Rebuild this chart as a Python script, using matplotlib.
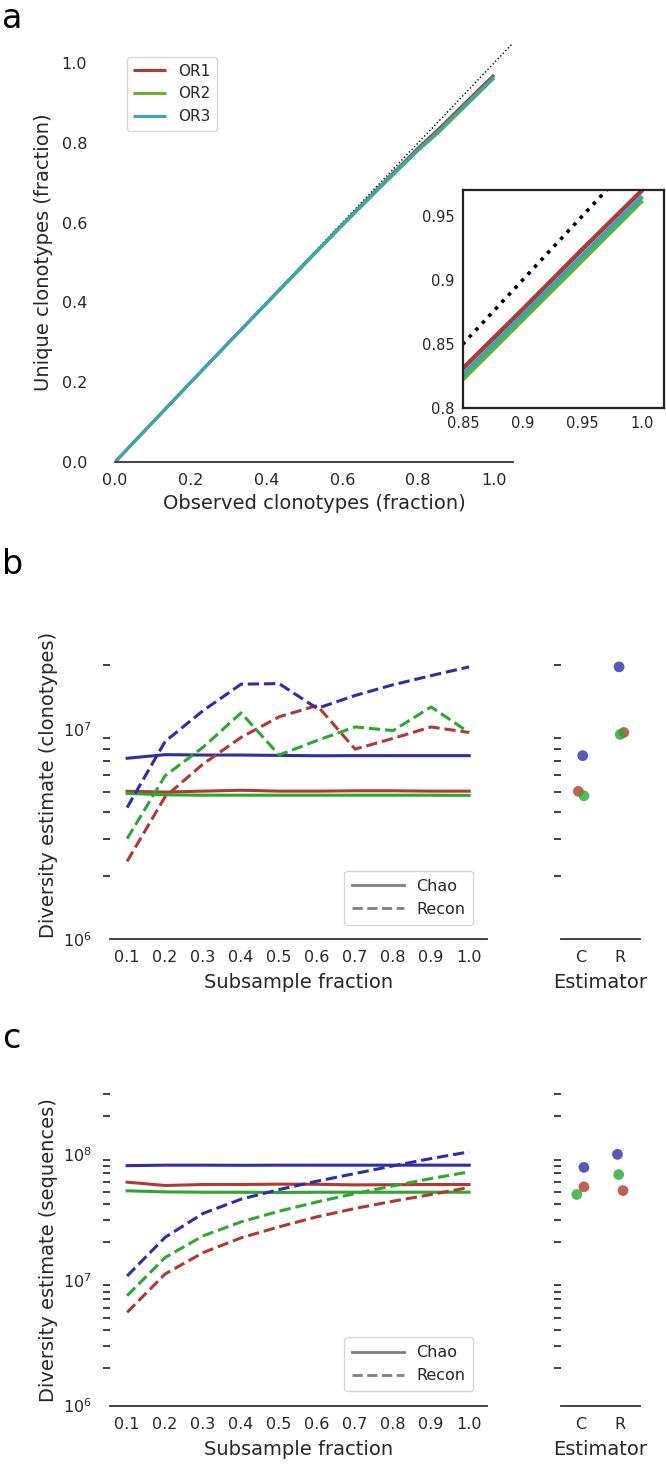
import matplotlib
matplotlib.use("Agg")
import matplotlib.pyplot as plt
from matplotlib.ticker import LogLocator, NullFormatter

plt.rcParams['font.family'] = ['DejaVu Sans']

# ---------------- Panel a data ----------------
obs_frac = [0, 0.1, 0.2, 0.3, 0.4, 0.5, 0.6, 0.7, 0.8, 0.85, 0.9, 0.95, 1.0]
uniq_or1 = [0, 0.1, 0.2, 0.2995, 0.3985, 0.497, 0.595, 0.692, 0.787, 0.831, 0.877, 0.924, 0.970]
uniq_or2 = [0, 0.1, 0.2, 0.299, 0.3975, 0.4955, 0.593, 0.688, 0.781, 0.8225, 0.869, 0.9155, 0.962]
uniq_or3 = [0, 0.1, 0.2, 0.2993, 0.398, 0.4963, 0.594, 0.690, 0.7835, 0.826, 0.8725, 0.919, 0.965]
diag = [0, 1.1]
samples_a = ['OR1', 'OR2', 'OR3']

# ---------------- Panel b/c data ----------------
fractions = [0.1, 0.2, 0.3, 0.4, 0.5, 0.6, 0.7, 0.8, 0.9, 1.0]
frac_labels = ['0.1', '0.2', '0.3', '0.4', '0.5', '0.6', '0.7', '0.8', '0.9', '1.0']

clono_chao_or1 = [5.04e6, 5.0e6, 5.05e6, 5.1e6, 5.05e6, 5.05e6, 5.07e6, 5.07e6, 5.05e6, 5.05e6]
clono_chao_or2 = [4.93e6, 4.85e6, 4.83e6, 4.83e6, 4.83e6, 4.83e6, 4.83e6, 4.83e6, 4.83e6, 4.82e6]
clono_chao_or3 = [7.24e6, 7.53e6, 7.5e6, 7.5e6, 7.47e6, 7.44e6, 7.45e6, 7.45e6, 7.45e6, 7.45e6]
clono_recon_or1 = [2.34e6, 4.75e6, 6.8e6, 9.1e6, 1.14e7, 1.29e7, 8.0e6, 9.0e6, 1.02e7, 9.6e6]
clono_recon_or2 = [3.0e6, 5.98e6, 8.17e6, 1.19e7, 7.5e6, 8.8e6, 1.02e7, 9.8e6, 1.27e7, 9.6e6]
clono_recon_or3 = [4.22e6, 8.7e6, 1.22e7, 1.63e7, 1.64e7, 1.25e7, 1.44e7, 1.62e7, 1.79e7, 1.97e7]

seq_chao_or1 = [5.95e7, 5.6e7, 5.7e7, 5.7e7, 5.74e7, 5.72e7, 5.66e7, 5.68e7, 5.7e7, 5.7e7]
seq_chao_or2 = [5.08e7, 4.98e7, 4.95e7, 4.95e7, 4.93e7, 4.95e7, 4.95e7, 4.95e7, 4.95e7, 4.95e7]
seq_chao_or3 = [8.05e7, 8.12e7, 8.12e7, 8.1e7, 8.12e7, 8.12e7, 8.12e7, 8.12e7, 8.12e7, 8.12e7]
seq_recon_or1 = [5.5e6, 1.11e7, 1.64e7, 2.15e7, 2.63e7, 3.16e7, 3.68e7, 4.2e7, 4.75e7, 5.4e7]
seq_recon_or2 = [7.46e6, 1.5e7, 2.23e7, 2.88e7, 3.5e7, 4.15e7, 4.83e7, 5.56e7, 6.36e7, 7.18e7]
seq_recon_or3 = [1.07e7, 2.17e7, 3.36e7, 4.36e7, 5.2e7, 6.06e7, 6.97e7, 8.02e7, 9.17e7, 1.035e8]

estimators = ['C', 'R']
# estimator point values [C, R] per sample
clono_est_or1 = [5.04e6, 9.6e6]
clono_est_or2 = [4.8e6, 9.4e6]
clono_est_or3 = [7.45e6, 1.97e7]
seq_est_or1 = [5.46e7, 5.1e7]
seq_est_or2 = [4.75e7, 6.84e7]
seq_est_or3 = [7.8e7, 9.9e7]

# ---------------- styles ----------------
RED = '#b03a32'
GREEN_A = '#6ab02c'
TEAL = '#37a6b7'
BLUE = '#2e2ea8'
GREEN = '#2fa532'
SPINE = '#333333'
TXT = '#262626'
jit_b = {'OR1': [-0.06, 0.09], 'OR2': [0.08, 0.0], 'OR3': [0.05, -0.03]}
jit_c = {'OR1': [0.08, 0.07], 'OR2': [-0.1, -0.04], 'OR3': [0.08, -0.07]}

W, H = 666, 1464
fig = plt.figure(figsize=(W / 100, H / 100), dpi=100)

def fx(px):
    return px / W

def fy(px):
    return 1 - px / H

def rect(l, t, r, b):
    return [fx(l), fy(b), fx(r) - fx(l), fy(t) - fy(b)]

TICK_FS = 11.5
LAB_FS = 14

# ---------------- Panel a ----------------
ax = fig.add_axes(rect(115, 43, 513, 462))
ax.plot(diag, diag, color='black', linestyle=':', lw=1.0, zorder=1)
for y, c, lab in zip([uniq_or1, uniq_or2, uniq_or3], [RED, GREEN_A, TEAL], samples_a):
    ax.plot(obs_frac, y, color=c, lw=2.2, label=lab, solid_capstyle='butt')
ax.set_xlim(0, 1.05)
ax.set_ylim(0, 1.05)
ax.set_xticks([0, 0.2, 0.4, 0.6, 0.8, 1.0])
ax.set_yticks([0, 0.2, 0.4, 0.6, 0.8, 1.0])
for s in ['top', 'right', 'left']:
    ax.spines[s].set_visible(False)
ax.spines['bottom'].set_color(SPINE)
ax.spines['bottom'].set_linewidth(1.3)
ax.tick_params(axis='both', length=0, labelsize=TICK_FS, labelcolor=TXT)
ax.tick_params(axis='y', pad=20)
ax.tick_params(axis='x', pad=8)
ax.set_xlabel('Observed clonotypes (fraction)', fontsize=LAB_FS, color=TXT, labelpad=4)
ax.set_ylabel('Unique clonotypes (fraction)', fontsize=LAB_FS, color=TXT, labelpad=6)
leg = ax.legend(loc='upper left', bbox_to_anchor=(0.01, 0.985), fontsize=11,
                handlelength=2.1, frameon=True, borderpad=0.45, labelspacing=0.5)
leg.get_frame().set_edgecolor('#cccccc')
for t in leg.get_texts():
    t.set_color(TXT)
fig.text(fx(2), fy(2), 'a', fontsize=24, va='top', ha='left', color='black')

# inset
axi = fig.add_axes(rect(463, 190, 664, 408))
axi.plot(diag, diag, color='black', linestyle=':', lw=2.6, zorder=1)
for y, c in zip([uniq_or1, uniq_or2, uniq_or3], [RED, GREEN_A, TEAL]):
    axi.plot(obs_frac, y, color=c, lw=3.2, solid_capstyle='butt')
axi.set_xlim(0.85, 1.018)
axi.set_ylim(0.8, 0.97)
axi.set_xticks([0.85, 0.9, 0.95, 1.0])
axi.set_xticklabels(['0.85', '0.9', '0.95', '1.0'])
axi.set_yticks([0.8, 0.85, 0.9, 0.95])
axi.set_yticklabels(['0.8', '0.85', '0.9', '0.95'])
for s in axi.spines.values():
    s.set_color('#222222')
    s.set_linewidth(1.6)
axi.tick_params(axis='both', length=0, labelsize=10.5, labelcolor=TXT, pad=6)

# ---------------- Panels b and c ----------------
def style_log(a):
    for s in ['top', 'right', 'left']:
        a.spines[s].set_visible(False)
    a.spines['bottom'].set_color(SPINE)
    a.spines['bottom'].set_linewidth(1.3)
    a.yaxis.set_minor_locator(LogLocator(base=10, subs=range(2, 10), numticks=20))
    a.yaxis.set_minor_formatter(NullFormatter())
    a.tick_params(axis='both', which='major', length=0, labelsize=TICK_FS, labelcolor=TXT)
    a.tick_params(axis='x', which='major', pad=8)
    a.tick_params(axis='y', which='minor', length=5, width=1.3, color=SPINE, left=True)

def left_panel(top, bottom, chao, recon, ylim_top, ylabel):
    axl = fig.add_axes(rect(110, top, 487, bottom))
    for y, c in zip(chao, [RED, GREEN, BLUE]):
        axl.plot(fractions, y, color=c, lw=2.2)
    for y, c in zip(recon, [RED, GREEN, BLUE]):
        axl.plot(fractions, y, color=c, lw=2.2, linestyle='--')
    axl.plot([], [], color='#808080', lw=2.0, label='Chao')
    axl.plot([], [], color='#808080', lw=2.0, linestyle='--', label='Recon')
    axl.set_yscale('log')
    axl.set_ylim(1e6, ylim_top)
    axl.set_xlim(0.055, 1.047)
    axl.set_xticks(fractions)
    axl.set_xticklabels(frac_labels)
    style_log(axl)
    axl.tick_params(axis='y', which='major', pad=13)
    axl.set_xlabel('Subsample fraction', fontsize=LAB_FS, color=TXT, labelpad=6)
    axl.set_ylabel(ylabel, fontsize=LAB_FS, color=TXT, labelpad=4)
    lg = axl.legend(loc='lower right', bbox_to_anchor=(0.985, 0.02), fontsize=11.5,
                    handlelength=3.2, frameon=True, borderpad=0.5, labelspacing=0.5)
    lg.get_frame().set_edgecolor('#cccccc')
    for t in lg.get_texts():
        t.set_color(TXT)
    return axl

def right_panel(top, bottom, est, jit, ylim_top):
    axr = fig.add_axes(rect(561, top, 640, bottom))
    for vals, c, key in zip(est, [RED, GREEN, BLUE], ['OR1', 'OR2', 'OR3']):
        xs = [i + j for i, j in zip(range(len(estimators)), jit[key])]
        axr.scatter(xs, vals, s=60, color=c, alpha=0.8, edgecolor='none', zorder=3)
    axr.set_yscale('log')
    axr.set_ylim(1e6, ylim_top)
    axr.set_xlim(-0.5, 1.5)
    axr.set_xticks(range(len(estimators)))
    axr.set_xticklabels(estimators)
    style_log(axr)
    axr.tick_params(axis='y', which='both', labelleft=False)
    axr.set_xlabel('Estimator', fontsize=LAB_FS, color=TXT, labelpad=6)
    return axr

left_panel(630, 939, [clono_chao_or1, clono_chao_or2, clono_chao_or3],
           [clono_recon_or1, clono_recon_or2, clono_recon_or3], 2.95e7,
           'Diversity estimate (clonotypes)')
right_panel(630, 939, [clono_est_or1, clono_est_or2, clono_est_or3], jit_b, 2.95e7)
fig.text(fx(2), fy(548), 'b', fontsize=24, va='top', ha='left', color='black')

left_panel(1093.7, 1405.6, [seq_chao_or1, seq_chao_or2, seq_chao_or3],
           [seq_recon_or1, seq_recon_or2, seq_recon_or3], 3.0e8,
           'Diversity estimate (sequences)')
right_panel(1093.7, 1405.6, [seq_est_or1, seq_est_or2, seq_est_or3], jit_c, 3.0e8)
fig.text(fx(2), fy(1022), 'c', fontsize=24, va='top', ha='left', color='black')

fig.savefig('out.png', dpi=100, facecolor='white')
